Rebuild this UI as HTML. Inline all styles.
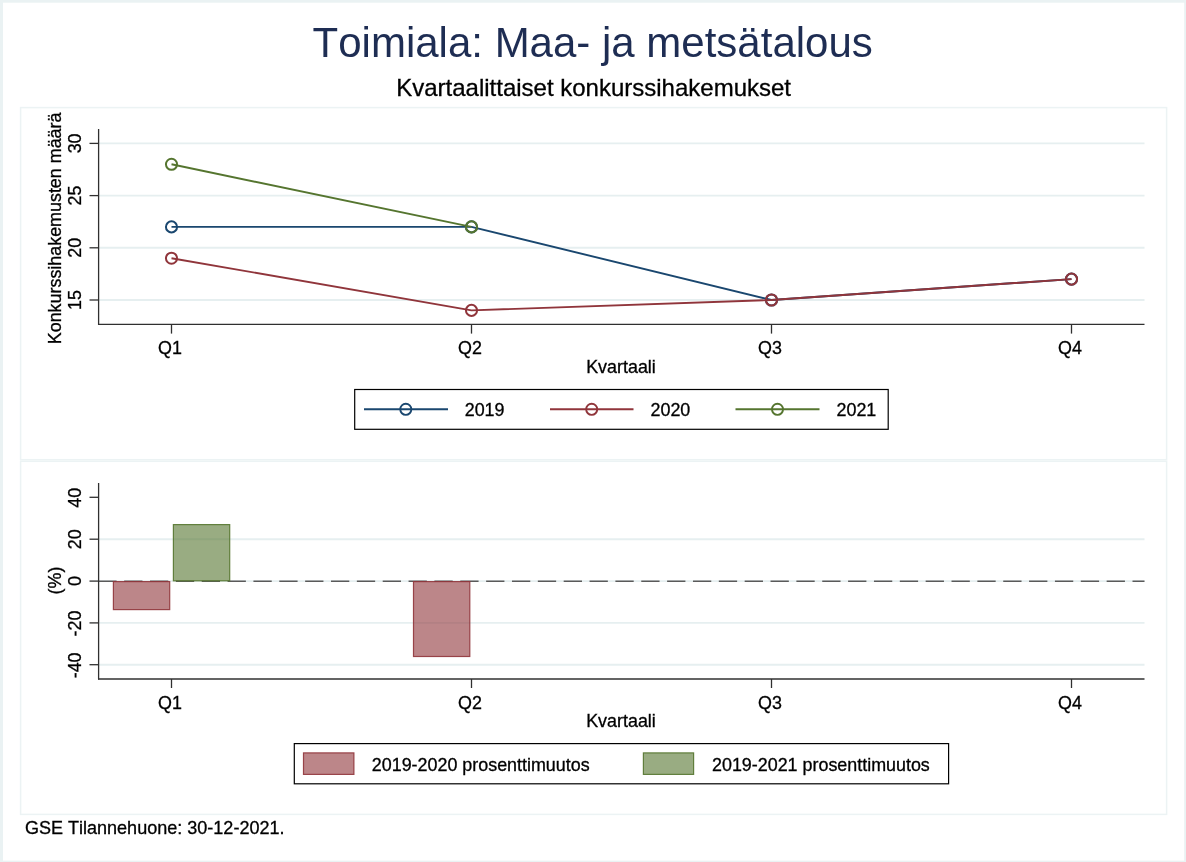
<!DOCTYPE html>
<html>
<head>
<meta charset="utf-8">
<title>Toimiala: Maa- ja metsätalous</title>
<style>
html,body{margin:0;padding:0;background:#eaf2f3;}
body{width:1186px;height:862px;overflow:hidden;font-family:"Liberation Sans",sans-serif;}
svg{display:block;will-change:transform;transform:translateZ(0);}
text{font-family:"Liberation Sans",sans-serif;fill:#000;font-kerning:none;font-variant-ligatures:none;}
.lab{font-size:17.9px;stroke:#000;stroke-width:0.3px;}
</style>
</head>
<body>
<svg width="1186" height="862" viewBox="0 0 1186 862">
  <!-- outer background + white graph region -->
  <rect x="0" y="0" width="1186" height="862" fill="#eaf2f3"/>
  <rect x="3" y="2.7" width="1181.2" height="857.9" fill="#ffffff"/>

  <!-- panel outlines -->
  <rect x="20.6" y="107.6" width="1146" height="352.1" fill="#ffffff" stroke="#ecf3f4" stroke-width="1.5"/>
  <rect x="20.6" y="461.3" width="1146" height="353.1" fill="#ffffff" stroke="#ecf3f4" stroke-width="1.5"/>

  <!-- titles -->
  <text x="592.7" y="57.3" text-anchor="middle" font-size="42" style="fill:#1e2d53">Toimiala: Maa- ja metsätalous</text>
  <text x="593.6" y="95.7" text-anchor="middle" font-size="24" stroke="#000" stroke-width="0.3">Kvartaalittaiset konkurssihakemukset</text>

  <!-- ================= TOP PANEL ================= -->
  <g id="top">
    <!-- grid -->
    <g stroke="#e6eff0" stroke-width="1.9">
      <line x1="99" y1="143.4" x2="1144.5" y2="143.4"/>
      <line x1="99" y1="195.6" x2="1144.5" y2="195.6"/>
      <line x1="99" y1="247.8" x2="1144.5" y2="247.8"/>
      <line x1="99" y1="300" x2="1144.5" y2="300"/>
    </g>
    <!-- axes -->
    <g stroke="#303030" stroke-width="1.3" fill="none">
      <line x1="98.6" y1="129" x2="98.6" y2="324.9"/>
      <line x1="98" y1="324.3" x2="1144.5" y2="324.3"/>
      <!-- y ticks -->
      <line x1="89.5" y1="143.4" x2="98.6" y2="143.4"/>
      <line x1="89.5" y1="195.6" x2="98.6" y2="195.6"/>
      <line x1="89.5" y1="247.8" x2="98.6" y2="247.8"/>
      <line x1="89.5" y1="300" x2="98.6" y2="300"/>
      <!-- x ticks -->
      <line x1="171.5" y1="324.3" x2="171.5" y2="333.6"/>
      <line x1="471.5" y1="324.3" x2="471.5" y2="333.6"/>
      <line x1="771.5" y1="324.3" x2="771.5" y2="333.6"/>
      <line x1="1071.5" y1="324.3" x2="1071.5" y2="333.6"/>
    </g>
    <!-- y tick labels (rotated) -->
    <g class="lab" text-anchor="middle">
      <text transform="translate(81,143.4) rotate(-90)">30</text>
      <text transform="translate(81,195.6) rotate(-90)">25</text>
      <text transform="translate(81,247.8) rotate(-90)">20</text>
      <text transform="translate(81,300) rotate(-90)">15</text>
      <text transform="translate(61,228.4) rotate(-90)">Konkurssihakemusten määrä</text>
    </g>
    <!-- x tick labels -->
    <g class="lab" text-anchor="middle">
      <text x="170" y="354.4">Q1</text>
      <text x="470" y="354.4">Q2</text>
      <text x="770" y="354.4">Q3</text>
      <text x="1070" y="354.4">Q4</text>
      <text x="621" y="372.8">Kvartaali</text>
    </g>
    <!-- series -->
    <g fill="none" stroke-width="1.9" stroke-linejoin="round">
      <!-- 2019 navy -->
      <polyline stroke="#1a476f" points="171.5,226.9 471.5,226.9 771.5,300 1071.5,279.1"/>
      <!-- 2020 maroon -->
      <polyline stroke="#90353b" points="171.5,258.2 471.5,310.4 771.5,300 1071.5,279.1"/>
      <!-- 2021 green -->
      <polyline stroke="#55752f" points="171.5,164.3 471.5,226.9"/>
    </g>
    <g fill="none" stroke-width="2">
      <g stroke="#1a476f">
        <circle cx="171.5" cy="226.9" r="5.55"/><circle cx="471.5" cy="226.9" r="5.55"/><circle cx="771.5" cy="300" r="5.55"/><circle cx="1071.5" cy="279.1" r="5.55"/>
      </g>
      <g stroke="#90353b">
        <circle cx="171.5" cy="258.2" r="5.55"/><circle cx="471.5" cy="310.4" r="5.55"/><circle cx="771.5" cy="300" r="5.55"/><circle cx="1071.5" cy="279.1" r="5.55"/>
      </g>
      <g stroke="#55752f">
        <circle cx="171.5" cy="164.3" r="5.55"/><circle cx="471.5" cy="226.9" r="5.55"/>
      </g>
    </g>
    <!-- legend -->
    <rect x="354.7" y="389.5" width="533.5" height="39.8" fill="#ffffff" stroke="#000" stroke-width="1.2"/>
    <g fill="none" stroke-width="1.9">
      <line x1="364" y1="409.3" x2="448" y2="409.3" stroke="#1a476f"/>
      <circle cx="405.8" cy="409.3" r="5.55" stroke="#1a476f"/>
      <line x1="550" y1="409.3" x2="633.5" y2="409.3" stroke="#90353b"/>
      <circle cx="591.7" cy="409.3" r="5.55" stroke="#90353b"/>
      <line x1="735.5" y1="409.3" x2="819.5" y2="409.3" stroke="#55752f"/>
      <circle cx="777.5" cy="409.3" r="5.55" stroke="#55752f"/>
    </g>
    <g class="lab">
      <text x="464.7" y="416.4">2019</text>
      <text x="650.5" y="416.4">2020</text>
      <text x="836.5" y="416.4">2021</text>
    </g>
  </g>

  <!-- ================= BOTTOM PANEL ================= -->
  <g id="bottom">
    <g stroke="#e6eff0" stroke-width="1.9">
      <line x1="99" y1="539.2" x2="1144.5" y2="539.2"/>
      <line x1="99" y1="581.1" x2="1144.5" y2="581.1"/>
      <line x1="99" y1="622.9" x2="1144.5" y2="622.9"/>
      <line x1="99" y1="664.7" x2="1144.5" y2="664.7"/>
    </g>
    <!-- zero dashed line -->
    <line x1="98.3" y1="581.2" x2="1144.5" y2="581.2" stroke="#5a5a5a" stroke-width="1.5" stroke-dasharray="18.3 7.555"/>
    <!-- bars -->
    <g stroke-width="1.2">
      <rect x="113.4" y="581.6" width="56.3" height="28" fill="#90353b" fill-opacity="0.6" stroke="#90353b" stroke-opacity="0.9"/>
      <rect x="173.4" y="524.6" width="56.3" height="56.2" fill="#55752f" fill-opacity="0.6" stroke="#55752f" stroke-opacity="0.9"/>
      <rect x="413.5" y="581.6" width="56.3" height="74.9" fill="#90353b" fill-opacity="0.6" stroke="#90353b" stroke-opacity="0.9"/>
    </g>
    <!-- axes -->
    <g stroke="#303030" stroke-width="1.3" fill="none">
      <line x1="98.6" y1="483" x2="98.6" y2="679.6"/>
      <line x1="98" y1="679" x2="1144.5" y2="679"/>
      <line x1="89.5" y1="497.3" x2="98.6" y2="497.3"/>
      <line x1="89.5" y1="539.2" x2="98.6" y2="539.2"/>
      <line x1="89.5" y1="581.1" x2="98.6" y2="581.1"/>
      <line x1="89.5" y1="622.9" x2="98.6" y2="622.9"/>
      <line x1="89.5" y1="664.7" x2="98.6" y2="664.7"/>
      <line x1="171.5" y1="679" x2="171.5" y2="688"/>
      <line x1="471.5" y1="679" x2="471.5" y2="688"/>
      <line x1="771.5" y1="679" x2="771.5" y2="688"/>
      <line x1="1071.5" y1="679" x2="1071.5" y2="688"/>
    </g>
    <g class="lab" text-anchor="middle">
      <text transform="translate(81,497.7) rotate(-90)">40</text>
      <text transform="translate(81,539.2) rotate(-90)">20</text>
      <text transform="translate(81,581.1) rotate(-90)">0</text>
      <text transform="translate(81,623.5) rotate(-90)">-20</text>
      <text transform="translate(81,665.4) rotate(-90)">-40</text>
      <text transform="translate(61,580.5) rotate(-90)">(%)</text>
    </g>
    <g class="lab" text-anchor="middle">
      <text x="170" y="708.8">Q1</text>
      <text x="470" y="708.8">Q2</text>
      <text x="770" y="708.8">Q3</text>
      <text x="1070" y="708.8">Q4</text>
      <text x="621" y="727.2">Kvartaali</text>
    </g>
    <!-- legend -->
    <rect x="294.3" y="743.6" width="654.3" height="40.2" fill="#ffffff" stroke="#000" stroke-width="1.2"/>
    <rect x="303.5" y="752.9" width="50.4" height="21.5" fill="#90353b" fill-opacity="0.6" stroke="#90353b" stroke-opacity="0.9" stroke-width="1.2"/>
    <rect x="643.4" y="752.9" width="50.2" height="21.5" fill="#55752f" fill-opacity="0.6" stroke="#55752f" stroke-opacity="0.9" stroke-width="1.2"/>
    <g class="lab">
      <text x="371.8" y="770.9">2019-2020 prosenttimuutos</text>
      <text x="712" y="770.9">2019-2021 prosenttimuutos</text>
    </g>
  </g>

  <!-- footer note -->
  <text x="24.9" y="833.8" font-size="18.05" stroke="#000" stroke-width="0.3">GSE Tilannehuone: 30-12-2021.</text>
</svg>
</body>
</html>
